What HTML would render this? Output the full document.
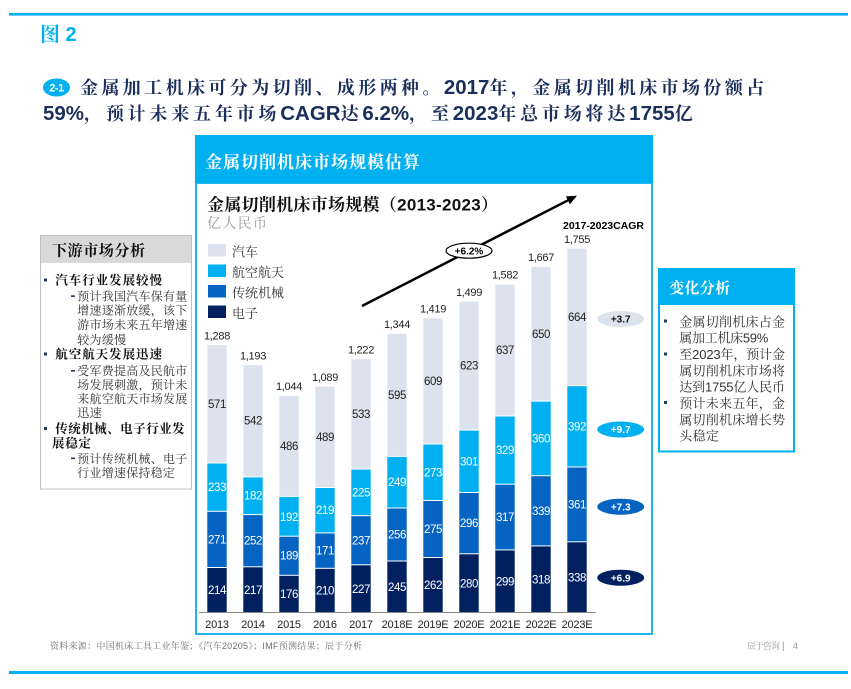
<!DOCTYPE html>
<html><head><meta charset="utf-8"><style>
html,body{margin:0;padding:0;background:#fff;}
svg{display:block;}
text{font-family:"Liberation Sans","Noto Serif CJK SC",serif;}
.v{font-size:11.5px;letter-spacing:-0.4px;text-anchor:middle;fill:#fff;}
.d{fill:#222;}
.t{font-size:11px;letter-spacing:-0.3px;text-anchor:middle;fill:#222;}
.y{font-size:11px;letter-spacing:-0.2px;text-anchor:middle;fill:#222;}
.e{fill:#002060;}.m{fill:#0563c1;}.a{fill:#00b0f0;}.u{fill:#dde3ee;}
.lb{font-size:12.5px;font-weight:bold;fill:#111;}
.ls{font-size:12px;fill:#333;}
.rs{font-size:13px;fill:#333;}
.h1c{letter-spacing:3.4px;}
.h2c{letter-spacing:3.8px;}
.hn{font-size:20.5px;letter-spacing:0px;}
</style></head><body>
<svg width="851" height="689" viewBox="0 0 851 689" xmlns="http://www.w3.org/2000/svg">
<rect x="0" y="0" width="851" height="689" fill="#fff"/>
<!-- top line -->
<rect x="9" y="13" width="839" height="2.6" fill="#00b0f0"/>
<text x="40" y="41" font-size="20" font-weight="bold" fill="#00b0f0">图 2</text>

<!-- headline -->
<ellipse cx="56.5" cy="87.5" rx="13.5" ry="9" fill="#00b0f0"/>
<text x="56.5" y="91.5" font-size="11" font-weight="bold" fill="#fff" text-anchor="middle" letter-spacing="-0.5">2-1</text>
<text x="80" y="94" font-size="18" font-weight="bold" fill="#1b2f5b"><tspan class="h1c">金属加工机床可分为切削、成形两种。</tspan><tspan class="hn">2017</tspan><tspan class="h1c">年，金属切削机床市场份额占</tspan></text>
<text x="43" y="120" font-size="18" font-weight="bold" fill="#1b2f5b"><tspan class="hn">59%</tspan><tspan class="h2c">，预计未来五年市场</tspan><tspan class="hn">CAGR</tspan><tspan class="h2c">达</tspan><tspan class="hn">6.2%</tspan><tspan class="h2c">，至</tspan><tspan class="hn">2023</tspan><tspan class="h2c">年总市场将达</tspan><tspan class="hn">1755</tspan><tspan class="h2c">亿</tspan></text>

<!-- left panel -->
<rect x="40.5" y="235.5" width="151" height="253.5" fill="#fff" stroke="#bfbfbf" stroke-width="1"/>
<rect x="41" y="236" width="150" height="27" fill="#d9d9d9"/>
<text x="52" y="255.5" font-size="15" font-weight="bold" fill="#111" textLength="93" lengthAdjust="spacing">下游市场分析</text>
<rect x="44" y="278.5" width="3" height="3" fill="#1f3864"/>
<text class="lb" x="55.3" y="284.5" textLength="106.7" lengthAdjust="spacing">汽车行业发展较慢</text>
<rect x="71" y="295.3" width="4" height="1.6" fill="#1f3864"/>
<text class="ls" x="77.3" y="300.5" textLength="110" lengthAdjust="spacing">预计我国汽车保有量</text>
<text class="ls" x="77.3" y="314.5" textLength="110" lengthAdjust="spacing">增速逐渐放缓，该下</text>
<text class="ls" x="77.3" y="329" textLength="110" lengthAdjust="spacing">游市场未来五年增速</text>
<text class="ls" x="77.3" y="344" textLength="48.8" lengthAdjust="spacing">较为缓慢</text>
<rect x="44" y="352.5" width="3" height="3" fill="#1f3864"/>
<text class="lb" x="55.3" y="358.5" textLength="106.7" lengthAdjust="spacing">航空航天发展迅速</text>
<rect x="71" y="370" width="4" height="1.6" fill="#1f3864"/>
<text class="ls" x="77.3" y="375.2" textLength="110" lengthAdjust="spacing">受军费提高及民航市</text>
<text class="ls" x="77.3" y="389" textLength="110" lengthAdjust="spacing">场发展刺激，预计未</text>
<text class="ls" x="77.3" y="403" textLength="110" lengthAdjust="spacing">来航空航天市场发展</text>
<text class="ls" x="77.3" y="417" textLength="24.4" lengthAdjust="spacing">迅速</text>
<rect x="44" y="427" width="3" height="3" fill="#1f3864"/>
<text class="lb" x="55.3" y="433" textLength="129.4" lengthAdjust="spacing">传统机械、电子行业发</text>
<text class="lb" x="52" y="447.3" textLength="39" lengthAdjust="spacing">展稳定</text>
<rect x="71" y="457.5" width="4" height="1.6" fill="#1f3864"/>
<text class="ls" x="77.3" y="463" textLength="110" lengthAdjust="spacing">预计传统机械、电子</text>
<text class="ls" x="77.3" y="477" textLength="97.6" lengthAdjust="spacing">行业增速保持稳定</text>

<!-- chart box -->
<rect x="196" y="183" width="456" height="451" fill="#fff" stroke="#1fb5ee" stroke-width="2"/>
<rect x="195" y="135" width="458" height="48" fill="#00b0f0"/>
<text x="205" y="168" font-size="17" font-weight="bold" fill="#fff" textLength="215" lengthAdjust="spacing">金属切削机床市场规模估算</text>
<text x="207" y="210.5" font-size="17" font-weight="bold" fill="#111" textLength="291" lengthAdjust="spacing">金属切削机床市场规模（2013-2023）</text>
<text x="207" y="228" font-size="14" fill="#9a9a9a" textLength="60" lengthAdjust="spacing">亿人民币</text>

<!-- legend -->
<rect x="208" y="244" width="18" height="12.5" class="u"/>
<text x="232" y="256.5" font-size="13" fill="#333" textLength="26" lengthAdjust="spacing">汽车</text>
<rect x="208" y="264.5" width="18" height="12.5" class="a"/>
<text x="232" y="277" font-size="13" fill="#333" textLength="52" lengthAdjust="spacing">航空航天</text>
<rect x="208" y="285" width="18" height="12.5" class="m"/>
<text x="232" y="297.5" font-size="13" fill="#333" textLength="52" lengthAdjust="spacing">传统机械</text>
<rect x="208" y="305.5" width="18" height="12.5" class="e"/>
<text x="232" y="318" font-size="13" fill="#333" textLength="26" lengthAdjust="spacing">电子</text>

<!-- arrow -->
<line x1="362" y1="306" x2="568" y2="200.3" stroke="#000" stroke-width="2.5"/>
<polygon points="577,195.7 569.9,204.2 565.9,196.4" fill="#000"/>
<ellipse cx="469" cy="250.7" rx="23" ry="7.5" fill="#fff" stroke="#000" stroke-width="1.2"/>
<text x="469" y="254.3" font-size="10" font-weight="bold" text-anchor="middle" fill="#000">+6.2%</text>

<text x="563" y="229" font-size="10.5" font-weight="bold" fill="#000" textLength="81" lengthAdjust="spacingAndGlyphs">2017-2023CAGR</text>

<!-- bars -->
<g>
<rect x="207.3" y="568.0" width="19.4" height="44.3" class="e"/>
<rect x="207.3" y="511.8" width="19.4" height="55.2" class="m"/>
<rect x="207.3" y="463.5" width="19.4" height="47.3" class="a"/>
<rect x="207.3" y="345.2" width="19.4" height="117.3" class="u"/>
<rect x="243.3" y="567.3" width="19.4" height="45.0" class="e"/>
<rect x="243.3" y="515.1" width="19.4" height="51.2" class="m"/>
<rect x="243.3" y="477.4" width="19.4" height="36.7" class="a"/>
<rect x="243.3" y="365.1" width="19.4" height="111.3" class="u"/>
<rect x="279.3" y="575.8" width="19.4" height="36.5" class="e"/>
<rect x="279.3" y="536.7" width="19.4" height="38.1" class="m"/>
<rect x="279.3" y="496.9" width="19.4" height="38.8" class="a"/>
<rect x="279.3" y="396.0" width="19.4" height="99.9" class="u"/>
<rect x="315.3" y="568.8" width="19.4" height="43.5" class="e"/>
<rect x="315.3" y="533.4" width="19.4" height="34.4" class="m"/>
<rect x="315.3" y="488.0" width="19.4" height="44.4" class="a"/>
<rect x="315.3" y="386.7" width="19.4" height="100.3" class="u"/>
<rect x="351.3" y="565.3" width="19.4" height="47.0" class="e"/>
<rect x="351.3" y="516.2" width="19.4" height="48.1" class="m"/>
<rect x="351.3" y="469.5" width="19.4" height="45.7" class="a"/>
<rect x="351.3" y="359.1" width="19.4" height="109.4" class="u"/>
<rect x="387.3" y="561.5" width="19.4" height="50.8" class="e"/>
<rect x="387.3" y="508.5" width="19.4" height="52.0" class="m"/>
<rect x="387.3" y="456.9" width="19.4" height="50.6" class="a"/>
<rect x="387.3" y="333.8" width="19.4" height="122.1" class="u"/>
<rect x="423.3" y="558.0" width="19.4" height="54.3" class="e"/>
<rect x="423.3" y="501.0" width="19.4" height="56.0" class="m"/>
<rect x="423.3" y="444.5" width="19.4" height="55.5" class="a"/>
<rect x="423.3" y="318.3" width="19.4" height="125.2" class="u"/>
<rect x="459.3" y="554.3" width="19.4" height="58.0" class="e"/>
<rect x="459.3" y="493.0" width="19.4" height="60.3" class="m"/>
<rect x="459.3" y="430.6" width="19.4" height="61.4" class="a"/>
<rect x="459.3" y="301.7" width="19.4" height="127.9" class="u"/>
<rect x="495.3" y="550.4" width="19.4" height="61.9" class="e"/>
<rect x="495.3" y="484.7" width="19.4" height="64.7" class="m"/>
<rect x="495.3" y="416.5" width="19.4" height="67.2" class="a"/>
<rect x="495.3" y="284.5" width="19.4" height="131.0" class="u"/>
<rect x="531.3" y="546.4" width="19.4" height="65.9" class="e"/>
<rect x="531.3" y="476.2" width="19.4" height="69.2" class="m"/>
<rect x="531.3" y="401.6" width="19.4" height="73.6" class="a"/>
<rect x="531.3" y="266.9" width="19.4" height="133.7" class="u"/>
<rect x="567.3" y="542.3" width="19.4" height="70.0" class="e"/>
<rect x="567.3" y="467.5" width="19.4" height="73.8" class="m"/>
<rect x="567.3" y="386.2" width="19.4" height="80.3" class="a"/>
<rect x="567.3" y="248.7" width="19.4" height="136.5" class="u"/>
</g>

<!-- axis -->
<line x1="199" y1="612.5" x2="596" y2="612.5" stroke="#8c8c8c" stroke-width="1"/>

<!-- segment labels -->
<g>
<text class="v" x="217" y="594.2">214</text><text class="v" x="217" y="543.4">271</text><text class="v" x="217" y="491.2">233</text><text class="v d" x="217" y="407.9">571</text>
<text class="v" x="253" y="593.8">217</text><text class="v" x="253" y="544.7">252</text><text class="v" x="253" y="499.7">182</text><text class="v d" x="253" y="424.7">542</text>
<text class="v" x="289" y="598.1">176</text><text class="v" x="289" y="559.7">189</text><text class="v" x="289" y="520.8">192</text><text class="v d" x="289" y="449.9">486</text>
<text class="v" x="325" y="594.6">210</text><text class="v" x="325" y="554.6">171</text><text class="v" x="325" y="514.2">219</text><text class="v d" x="325" y="440.8">489</text>
<text class="v" x="361" y="592.8">227</text><text class="v" x="361" y="544.3">237</text><text class="v" x="361" y="496.4">225</text><text class="v d" x="361" y="417.8">533</text>
<text class="v" x="397" y="590.9">245</text><text class="v" x="397" y="538.5">256</text><text class="v" x="397" y="486.2">249</text><text class="v d" x="397" y="398.9">595</text>
<text class="v" x="433" y="589.2">262</text><text class="v" x="433" y="533.0">275</text><text class="v" x="433" y="476.3">273</text><text class="v d" x="433" y="384.9">609</text>
<text class="v" x="469" y="587.3">280</text><text class="v" x="469" y="527.2">296</text><text class="v" x="469" y="465.3">301</text><text class="v d" x="469" y="369.7">623</text>
<text class="v" x="505" y="585.4">299</text><text class="v" x="505" y="521.1">317</text><text class="v" x="505" y="454.1">329</text><text class="v d" x="505" y="354.0">637</text>
<text class="v" x="541" y="583.4">318</text><text class="v" x="541" y="514.8">339</text><text class="v" x="541" y="442.4">360</text><text class="v d" x="541" y="337.8">650</text>
<text class="v" x="577" y="581.3">338</text><text class="v" x="577" y="508.4">361</text><text class="v" x="577" y="430.4">392</text><text class="v d" x="577" y="321.0">664</text>
</g>

<!-- totals -->
<g>
<text class="t" x="217" y="339.5">1,288</text>
<text class="t" x="253" y="359.3">1,193</text>
<text class="t" x="289" y="390.2">1,044</text>
<text class="t" x="325" y="380.9">1,089</text>
<text class="t" x="361" y="353.3">1,222</text>
<text class="t" x="397" y="328.0">1,344</text>
<text class="t" x="433" y="312.5">1,419</text>
<text class="t" x="469" y="295.9">1,499</text>
<text class="t" x="505" y="278.7">1,582</text>
<text class="t" x="541" y="261.1">1,667</text>
<text class="t" x="577" y="242.9">1,755</text>
</g>

<!-- years -->
<g>
<text class="y" x="217" y="628">2013</text>
<text class="y" x="253" y="628">2014</text>
<text class="y" x="289" y="628">2015</text>
<text class="y" x="325" y="628">2016</text>
<text class="y" x="361" y="628">2017</text>
<text class="y" x="397" y="628">2018E</text>
<text class="y" x="433" y="628">2019E</text>
<text class="y" x="469" y="628">2020E</text>
<text class="y" x="505" y="628">2021E</text>
<text class="y" x="541" y="628">2022E</text>
<text class="y" x="577" y="628">2023E</text>
</g>

<!-- CAGR pills -->
<ellipse cx="620.7" cy="319" rx="23.5" ry="8" fill="#dde3ee"/>
<text x="620.7" y="322.6" font-size="10" font-weight="bold" fill="#111" text-anchor="middle">+3.7</text>
<ellipse cx="620.7" cy="429.5" rx="23.5" ry="8" fill="#00b0f0"/>
<text x="620.7" y="433.1" font-size="10" font-weight="bold" fill="#fff" text-anchor="middle">+9.7</text>
<ellipse cx="620.7" cy="506.7" rx="23.5" ry="8" fill="#0563c1"/>
<text x="620.7" y="510.3" font-size="10" font-weight="bold" fill="#fff" text-anchor="middle">+7.3</text>
<ellipse cx="620.7" cy="577.7" rx="23.5" ry="8" fill="#002060"/>
<text x="620.7" y="581.3" font-size="10" font-weight="bold" fill="#fff" text-anchor="middle">+6.9</text>

<!-- right panel -->
<rect x="659" y="269" width="135" height="182.5" fill="#fff" stroke="#00b0f0" stroke-width="2"/>
<rect x="658" y="268" width="137" height="37" fill="#00b0f0"/>
<text x="669.3" y="293" font-size="15" font-weight="bold" fill="#fff" textLength="60.7" lengthAdjust="spacing">变化分析</text>
<rect x="664" y="319.5" width="3" height="3" fill="#1f3864"/>
<text class="rs" x="679.3" y="326.3" textLength="105.7" lengthAdjust="spacing">金属切削机床占金</text>
<text class="rs" x="679.3" y="342.6" textLength="89" lengthAdjust="spacing">属加工机床59%</text>
<rect x="664" y="352.5" width="3" height="3" fill="#1f3864"/>
<text class="rs" x="679.3" y="359.2" textLength="105.7" lengthAdjust="spacing">至2023年，预计金</text>
<text class="rs" x="679.3" y="375.7" textLength="105.7" lengthAdjust="spacing">属切削机床市场将</text>
<text class="rs" x="679.3" y="391.6" textLength="105.7" lengthAdjust="spacing">达到1755亿人民币</text>
<rect x="664" y="401" width="3" height="3" fill="#1f3864"/>
<text class="rs" x="679.3" y="407.9" textLength="105.7" lengthAdjust="spacing">预计未来五年，金</text>
<text class="rs" x="679.3" y="424.3" textLength="105.7" lengthAdjust="spacing">属切削机床增长势</text>
<text class="rs" x="679.3" y="440.6" textLength="39.6" lengthAdjust="spacing">头稳定</text>

<!-- footer -->
<text x="50" y="649" font-size="9" fill="#6f6f6f" textLength="312" lengthAdjust="spacing">资料来源：中国机床工具工业年鉴；《汽车20205》；IMF预测结果；辰于分析</text>
<text x="747" y="649" font-size="9" fill="#999" textLength="33" lengthAdjust="spacing">辰于咨询</text>
<text x="782" y="649" font-size="10" fill="#999">|</text>
<text x="793" y="649" font-size="9" fill="#999">4</text>
<rect x="9" y="671" width="839" height="3" fill="#00b0f0"/>
</svg>
</body></html>
